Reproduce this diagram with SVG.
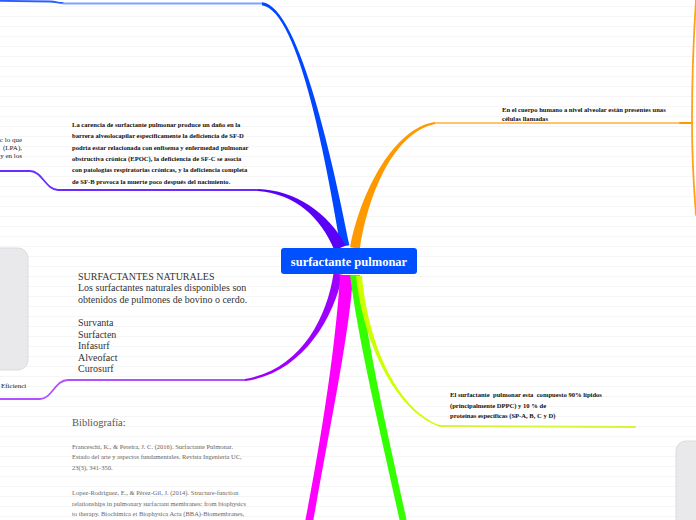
<svg xmlns="http://www.w3.org/2000/svg" width="696" height="520" viewBox="0 0 696 520">
<defs>
<pattern id="bg" x="0" y="0" width="696" height="10" patternUnits="userSpaceOnUse">
<rect width="696" height="10" fill="#ffffff"/>
<line x1="0" y1="6.5" x2="696" y2="6.5" stroke="#f5f5f5" stroke-width="1"/>
</pattern>
<style>
.sf{font-family:"Liberation Serif","Times New Roman",serif}
.tb{font-weight:bold;font-size:6.6px;fill:#111}
.nat{font-size:10px;fill:#333}
.ref{font-size:6.5px;fill:#666}
.cut{font-size:7px;fill:#222}
.pre{white-space:pre}
.thin{fill:none;stroke-width:1.8;stroke-linecap:round}
.panel{fill:#e9e9eb;stroke:#dcdcde;stroke-width:1}
</style>
</defs>
<rect width="696" height="520" fill="url(#bg)"/>

<g id="panel-left"><rect class="panel" x="-20" y="248" width="48" height="122" rx="10"/></g>
<g id="panel-right"><rect class="panel" x="676" y="441" width="60" height="120" rx="10"/></g>

<g id="connectors">
<!-- blue -->
<path d="M0,0.8 L50,1.5 C56,1.5 58,3 63,3" class="thin" stroke="#2a5cff" stroke-width="1"/>
<path d="M262,3.5 L63,3.5" class="thin" stroke="#7aa2ff"/>
<path d="M349.4,245.2 C335.4,174.4 300.2,6 262.1,2.3 L261.9,5.2 C299.8,10 328.6,175.6 340.6,246.8 Z" fill="#0047ff"/>
<!-- indigo -->
<path d="M258,190 L58,190 C46,190 42,171 30,171 L0,171" class="thin" stroke="#6a2bff"/>
<path d="M345.5,245.5 C329.1,213.1 295.1,190 258.05,189 L257.95,191 C294.9,194 320.9,216.9 334.5,250.5 Z" fill="#5a00f5"/>
<!-- orange -->
<path d="M435,123 L690,123" class="thin" stroke="#ffc46a"/>
<path d="M680,123 L692,123" class="thin" stroke="#ff9900"/>
<path d="M692,123 C692,80 694,30 696,0" class="thin" stroke="#ffa21a" stroke-width="1.4"/>
<path d="M692,123 C692,160 694,190 696,215" class="thin" stroke="#ffa21a" stroke-width="1.4"/>
<path d="M359.9,248.85 C368.7,190.65 395.34,131.97 435.17,123.985 L434.83,122.015 C394.66,128.03 361.3,189.35 350.1,247.15 Z" fill="#ff9900"/>
<!-- purple -->
<path d="M245,380 L68,380 C55,380 52,399 40,399 L0,399" class="thin" stroke="#b050ff"/>
<path d="M333.57,273.23 C326.55,319.4 299.71,370.02 244.856,379.01 L245.144,380.99 C300.29,373.98 333.45,320.6 342.43,274.77 Z" fill="#9d00ff"/>
<!-- magenta -->
<path d="M340,275 C337,330 325,420 305,522 L313,522 C331,420 350,330 353,275 Z" fill="#ff00ff"/>
<!-- green -->
<path d="M350,275 C358,340 380,430 400,522 L407,522 C387,430 366,340 360,275 Z" fill="#33ff00"/>
<!-- yellow-green -->
<path d="M440,426 L635,427" class="thin" stroke="#d6f53a"/>
<path d="M356.01,276.28 C362.61,340.22 394.6,411.13 439.75,426.71 L440.25,425.29 C395.4,408.87 367.39,339.78 361.99,275.72 Z" fill="#ccff00"/>
</g>

<g id="node-center">
<rect x="281" y="248" width="136" height="26" rx="3" fill="#0050ff"/>
<text class="sf" x="349" y="266" text-anchor="middle" font-size="12.5" font-weight="bold" fill="#ffffff">surfactante pulmonar</text>
</g>

<g id="node-carencia" class="sf tb">
<text x="72" y="127">La carencia de surfactante pulmonar produce un daño en la</text>
<text x="72" y="138.3">barrera alveolocapilar específicamente la deficiencia de SF-D</text>
<text x="72" y="149.6">podría estar relacionada con enfisema y enfermedad pulmonar</text>
<text x="72" y="160.9">obstructiva crónica (EPOC), la deficiencia de SF-C se asocia</text>
<text x="72" y="172.2">con patologías respiratorias crónicas, y la deficiencia completa</text>
<text x="72" y="183.5">de SF-B provoca la muerte poco después del nacimiento.</text>
</g>

<g id="node-left-cut" class="sf cut">
<text x="22" y="141.5" text-anchor="end">c lo que</text>
<text x="22" y="149.5" text-anchor="end">(LPA),</text>
<text x="22" y="157.5" text-anchor="end">y en los</text>
</g>

<g id="node-naturales" class="sf nat">
<text x="78" y="279.5">SURFACTANTES NATURALES</text>
<text x="78" y="291.1">Los surfactantes naturales disponibles son</text>
<text x="78" y="302.7">obtenidos de pulmones de bovino o cerdo.</text>
<text x="78" y="325.9">Survanta</text>
<text x="78" y="337.5">Surfacten</text>
<text x="78" y="349.1">Infasurf</text>
<text x="78" y="360.7">Alveofact</text>
<text x="78" y="372.3">Curosurf</text>
</g>

<g id="node-eficienci" class="sf cut">
<text x="1" y="387.5">Eficienci</text>
</g>

<g id="node-cuerpo" class="sf tb">
<text x="502" y="112">En el cuerpo humano a nivel alveolar están presentes unas</text>
<text x="502" y="121">células llamadas</text>
</g>

<g id="node-compuesto" class="sf tb">
<text class="pre" x="450" y="397" xml:space="preserve">El surfactante  pulmonar esta  compuesto 90% lípidos</text>
<text x="450" y="407.5">(principalmente DPPC) y 10 % de</text>
<text x="450" y="418">proteínas específicas (SP-A, B, C y D)</text>
</g>

<g id="node-bibliografia" class="sf">
<text x="72" y="426" font-size="10.5" fill="#555">Bibliografía:</text>
<g class="ref">
<text x="72" y="448.5">Franceschi, K., &amp; Pereira, J. C. (2016). Surfactante Pulmonar.</text>
<text x="72" y="459">Estado del arte y aspectos fundamentales. Revista Ingeniería UC,</text>
<text x="72" y="469.5">23(3), 341-350.</text>
<text x="72" y="495">Lopez-Rodriguez, E., &amp; Pérez-Gil, J. (2014). Structure-function</text>
<text x="72" y="505.5">relationships in pulmonary surfactant membranes: from biophysics</text>
<text x="72" y="516">to therapy. Biochimica et Biophysica Acta (BBA)-Biomembranes,</text>
</g>
</g>
</svg>
